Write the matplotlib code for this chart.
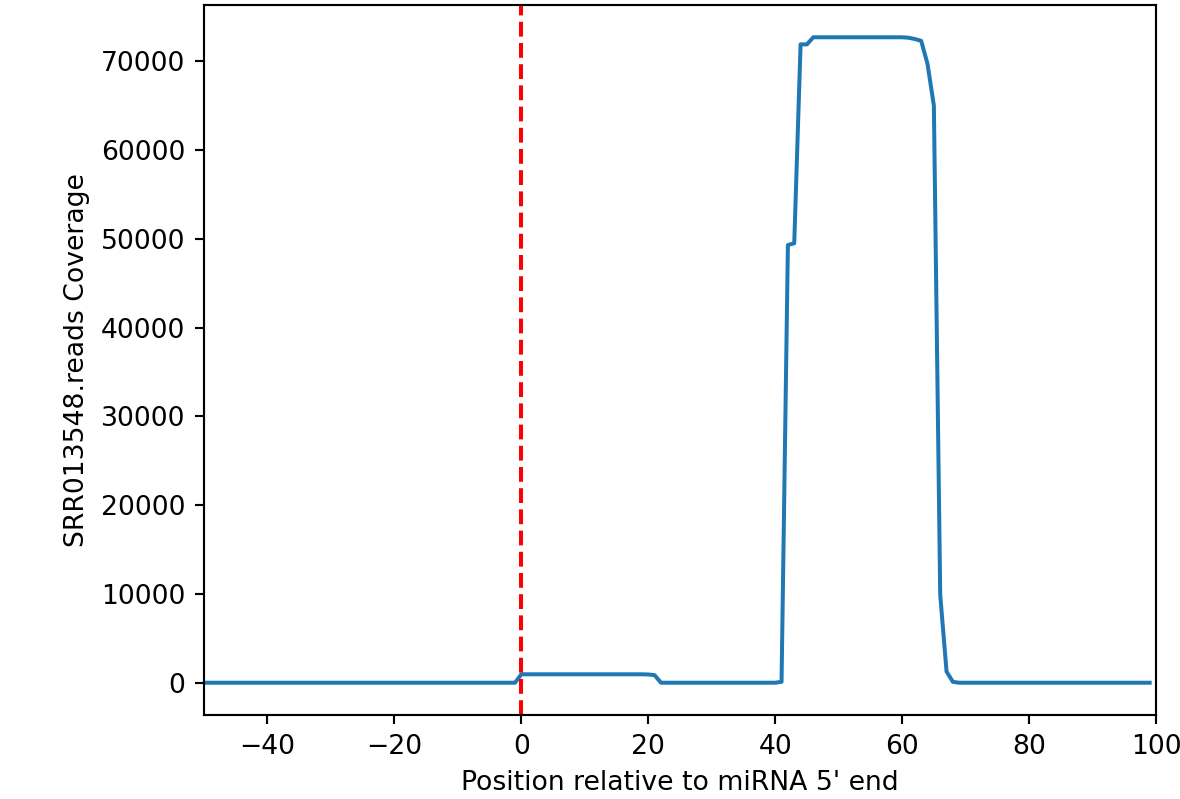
import matplotlib
matplotlib.use('Agg')
import matplotlib.pyplot as plt

# positions relative to miRNA 5' end
posiciones = list(range(-50, 100))

# read coverage (one value per position, -50 .. 99)
cobertura = [
    0, 0, 0, 0, 0, 0, 0, 0, 0, 0,              # -50 .. -41
    0, 0, 0, 0, 0, 0, 0, 0, 0, 0,              # -40 .. -31
    0, 0, 0, 0, 0, 0, 0, 0, 0, 0,              # -30 .. -21
    0, 0, 0, 0, 0, 0, 0, 0, 0, 0,              # -20 .. -11
    0, 0, 0, 0, 0, 0, 0, 0, 0, 0,              # -10 .. -1
    950, 950, 950, 950, 950, 950, 950, 950, 950, 950,      # 0 .. 9
    950, 950, 950, 950, 950, 950, 950, 950, 950, 950,      # 10 .. 19
    930, 850, 0, 0, 0, 0, 0, 0, 0, 0,                      # 20 .. 29
    0, 0, 0, 0, 0, 0, 0, 0, 0, 0,                          # 30 .. 39
    0, 100, 49300, 49500, 71900, 71900, 72700, 72700, 72700, 72700,   # 40 .. 49
    72700, 72700, 72700, 72700, 72700, 72700, 72700, 72700, 72700, 72700,  # 50 .. 59
    72700, 72650, 72500, 72300, 69700, 65000, 9900, 1250, 100, 0,     # 60 .. 69
    0, 0, 0, 0, 0, 0, 0, 0, 0, 0,              # 70 .. 79
    0, 0, 0, 0, 0, 0, 0, 0, 0, 0,              # 80 .. 89
    0, 0, 0, 0, 0, 0, 0, 0, 0, 0,              # 90 .. 99
]

fig = plt.figure(figsize=(1180/192, 799/192), dpi=192)
ax = fig.add_axes([204/1180, 84/799, 952/1180, 710/799])

ax.plot(posiciones, cobertura, color='#1f77b4', linewidth=1.5)
ax.axvline(0, color='r', linestyle='--', linewidth=1.5)

ax.set_xlim(-50, 100)
ax.set_xlabel("Position relative to miRNA 5' end")
ax.set_ylabel('SRR013548.reads Coverage')

fig.savefig('out.png', dpi=192)
